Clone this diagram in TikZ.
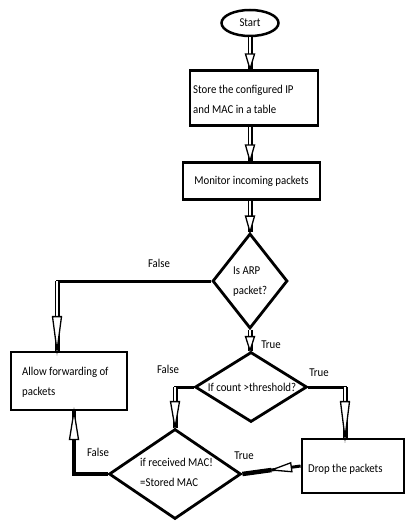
\documentclass[tikz,border=0pt]{standalone}
\usepackage{fontspec}
\setmainfont[FakeStretch=0.9]{Carlito}
\usetikzlibrary{shapes.geometric,decorations.markings,calc}
\begin{document}
\begin{tikzpicture}[x=1pt,y=-1pt,
  every node/.style={font=\fontsize{12}{20}\selectfont},
  blk/.style={draw, line width=2.8pt, inner sep=0pt},
  dia/.style={draw, diamond, line width=2.8pt, inner sep=0pt},
  txt/.style={inner sep=0pt, align=left},
  lbl/.style={inner sep=0pt},
  hlen/.store in=\hlen, hlen=16pt,
  head/.style={decoration={markings, mark=at position #1 with {\draw[line width=1.3pt, fill=white, line join=miter] (0pt,0pt) -- (-\hlen,4.5pt) -- (-\hlen,-4.5pt) -- cycle;}}, postaction=decorate},
  dbl/.style={line width=1.4pt, double distance=2.2pt, head=1},
  sgl/.style={line width=3pt},
  thk/.style={line width=4.5pt}
]
\useasboundingbox (0,0) rectangle (406,521);

% nodes
\node[draw, ellipse, line width=2.5pt, minimum width=57pt, minimum height=26pt, inner sep=0pt] (start) at (250,23) {Start};
\node[blk, minimum width=128pt, minimum height=55pt] (box1) at (254,98) {};
\node[txt, anchor=west] (t1) at (193,99) {Store the configured IP\\and MAC in a table};
\node[blk, minimum width=137pt, minimum height=37pt] (box2) at (251.5,181) {};
\node[txt] (t2) at (box2) {Monitor incoming packets};
\node[dia, minimum width=75pt, minimum height=95pt] (d1) at (250,281) {};
\node[txt, anchor=west] (t3) at (233,282) {Is ARP\\packet?};
\node[dia, minimum width=112pt, minimum height=70pt] (d2) at (251,387) {};
\node[txt] (t4) at (252,387) {If count >threshold?};
\node[dia, minimum width=132pt, minimum height=90pt] (d3) at (175,474) {};
\node[txt, anchor=west] (t5) at (140,472) {if received MAC!\\=Stored MAC};
\node[blk, minimum width=116pt, minimum height=58pt] (allow) at (69,381) {};
\node[txt, anchor=west] (t6) at (22,382) {Allow forwarding of\\packets};
\node[blk, minimum width=102pt, minimum height=54pt] (drop) at (353,466) {};
\node[txt, anchor=west] (t7) at (308,469) {Drop the packets};

% labels
\node[lbl] (f1) at (159,263) {False};
\node[lbl] (f2) at (168,369) {False};
\node[lbl] (f3) at (98,452) {False};
\node[lbl] (tr1) at (271,345) {True};
\node[lbl] (tr2) at (319,373) {True};
\node[lbl] (tr3) at (244,456) {True};

% helper coordinates
\coordinate (aTop) at ([xshift=-12pt]allow.north);
\coordinate (aBot) at ([xshift=5pt]allow.south);
\coordinate (dTop) at ([xshift=-8pt]drop.north);
\coordinate (c1) at (aTop |- d1.west);
\coordinate (c2) at (dTop |- d2.east);
\coordinate (c3) at (d3.north |- d2.west);
\coordinate (c4) at (aBot |- d3.west);
\coordinate (m) at ($(d3.east)!0.5!(drop.west)$);

% connectors
\draw[dbl, hlen=15pt] (start.south) -- (start.south |- box1.north);
\draw[dbl, hlen=16pt] (start |- box1.south) -- (start |- box2.north);
\draw[dbl, hlen=16pt] (d1 |- box2.south) -- (d1.north);
\draw[dbl, hlen=14pt] (d1.south) -- (d1.south |- d2.north);
\draw[sgl] (d1.west) -- ([xshift=-1.5pt]c1);
\draw[dbl, hlen=34pt] (c1) -- (aTop);
\draw[sgl] (d2.east) -- ([xshift=1.5pt]c2);
\draw[dbl, hlen=36pt] (c2) -- (dTop);
\draw[sgl] (d2.west) -- ([xshift=-1.5pt]c3);
\draw[dbl, hlen=26pt] (c3) -- (d3.north);
\draw[thk, head=1, hlen=28pt] (d3.west) -| (aBot);
\draw[thk] (d3.east) -- (m);
\draw[line width=3pt, head=1, hlen=20pt] (drop.west) -- (m);
\end{tikzpicture}
\end{document}
